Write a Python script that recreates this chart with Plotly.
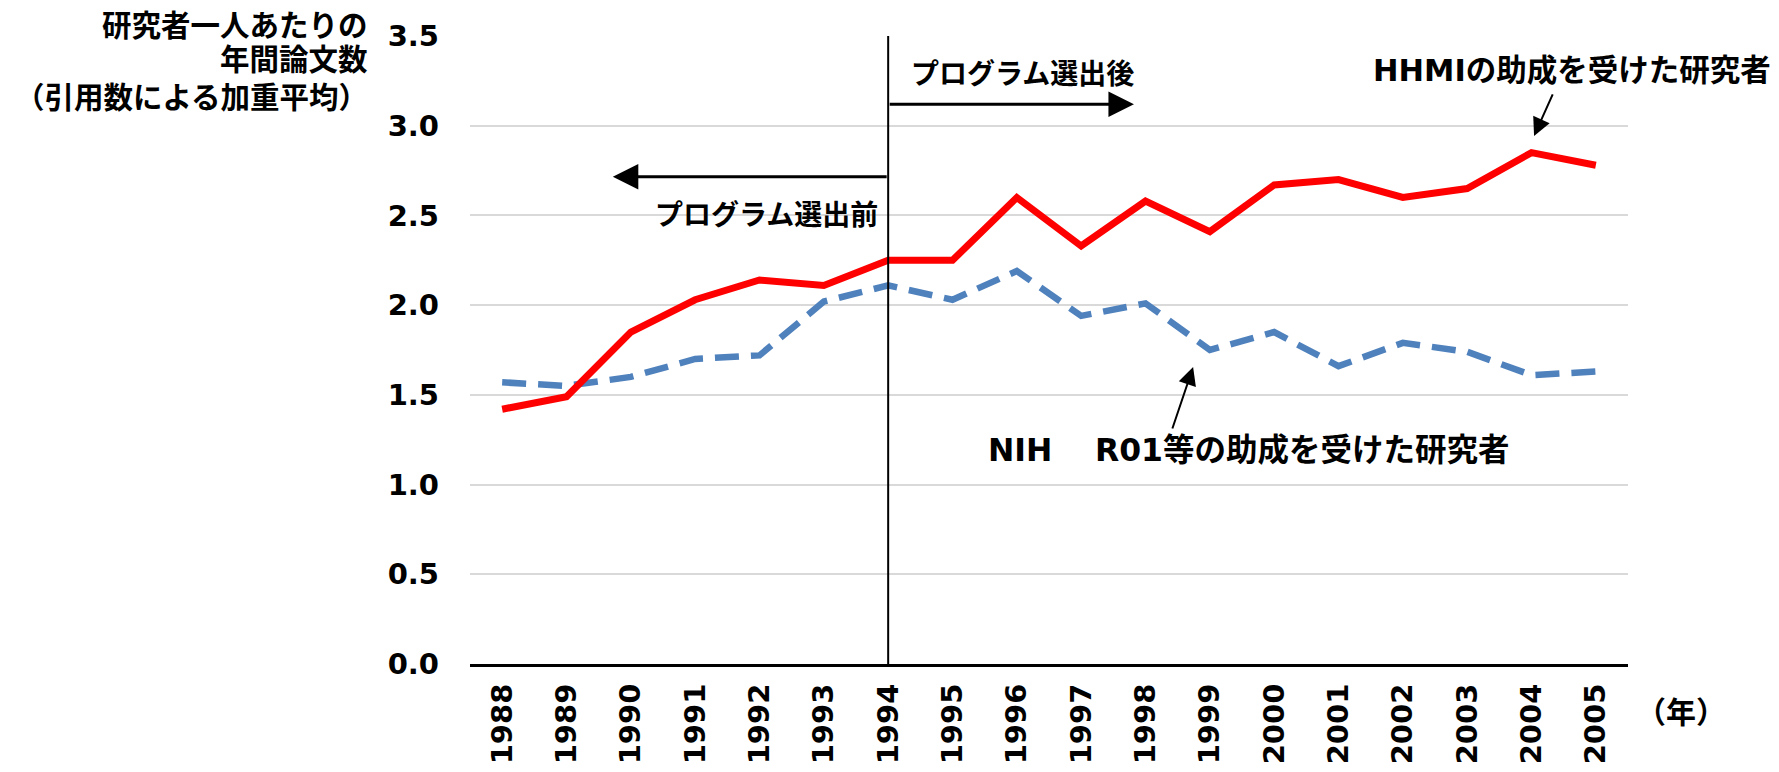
import plotly.graph_objects as go

years = [1988, 1989, 1990, 1991, 1992, 1993, 1994, 1995, 1996,
         1997, 1998, 1999, 2000, 2001, 2002, 2003, 2004, 2005]
hhmi = [1.42, 1.49, 1.85, 2.03, 2.14, 2.11, 2.25, 2.25, 2.60,
        2.33, 2.58, 2.41, 2.67, 2.70, 2.60, 2.65, 2.85, 2.78]
nih = [1.57, 1.55, 1.60, 1.70, 1.72, 2.02, 2.11, 2.03, 2.19,
       1.94, 2.01, 1.75, 1.85, 1.66, 1.79, 1.74, 1.61, 1.63]
y_ticks = [0.0, 0.5, 1.0, 1.5, 2.0, 2.5, 3.0, 3.5]
y_ticktext = ["0.0", "0.5", "1.0", "1.5", "2.0", "2.5", "3.0", "3.5"]
y_title_lines = ["研究者一人あたりの", "年間論文数", "（引用数による加重平均）"]

program_year = 1994

LAT = "DejaVu Sans, Noto Sans CJK JP, sans-serif"
JP = "Noto Sans CJK JP, sans-serif"
MIX = "DejaVu Sans, Noto Sans CJK JP, sans-serif"

# page body has an 8px margin; figure sized so the plot lands where the reference has it
W, H = 1771, 764
L, R, T, B = 462, 151, 28, 108
PW = W - L - R


def px_x(px):
    return (px - L) / PW


fig = go.Figure()
fig.add_trace(go.Scatter(x=years, y=nih, mode="lines",
                         line=dict(color="#4F81BD", width=6.5, dash="24px,12px"),
                         showlegend=False))
fig.add_trace(go.Scatter(x=years, y=hhmi, mode="lines",
                         line=dict(color="#FF0000", width=7),
                         showlegend=False))

fig.add_shape(type="line", x0=program_year, x1=program_year, y0=0, y1=3.525,
              xref="x", yref="y", line=dict(color="black", width=2))

anns = []
# period arrows
anns.append(dict(x=1997.82, y=3.12, ax=program_year, ay=3.12, xref="x", yref="y",
                 axref="x", ayref="y", text="", showarrow=True, arrowhead=2,
                 arrowsize=1.7, arrowwidth=3, arrowcolor="black", standoff=0))
anns.append(dict(x=1989.72, y=2.715, ax=program_year, ay=2.715, xref="x", yref="y",
                 axref="x", ayref="y", text="", showarrow=True, arrowhead=2,
                 arrowsize=1.7, arrowwidth=3, arrowcolor="black", standoff=0))
anns.append(dict(x=1994.33, y=3.30, xref="x", yref="y", text="プログラム選出後",
                 showarrow=False, xanchor="left", yanchor="middle",
                 font=dict(family=JP, size=28, color="black", weight=700)))
anns.append(dict(x=1993.88, y=2.514, xref="x", yref="y", text="プログラム選出前",
                 showarrow=False, xanchor="right", yanchor="middle",
                 font=dict(family=JP, size=28, color="black", weight=700)))
# series labels
anns.append(dict(x=px_x(1765), y=3.305, xref="paper", yref="y",
                 text="HHMIの助成を受けた研究者",
                 showarrow=False, xanchor="right", yanchor="middle",
                 font=dict(family=MIX, size=30.5, color="black", weight=700)))
anns.append(dict(x=1995.52, y=1.193, xref="x", yref="y",
                 text="NIH\u3000 R01等の助成を受けた研究者",
                 showarrow=False, xanchor="left", yanchor="middle",
                 font=dict(family=MIX, size=31.5, color="black", weight=700)))
anns.append(dict(x=2004.04, y=2.943, ax=2004.34, ay=3.183, xref="x", yref="y",
                 axref="x", ayref="y", text="", showarrow=True, arrowhead=2,
                 arrowsize=1.8, arrowwidth=2, arrowcolor="black", standoff=0))
anns.append(dict(x=1998.74, y=1.655, ax=1998.41, ay=1.304, xref="x", yref="y",
                 axref="x", ayref="y", text="", showarrow=True, arrowhead=2,
                 arrowsize=1.8, arrowwidth=2, arrowcolor="black", standoff=0))

# y-axis title, one annotation per line (centres at 15, 49, 87 px from figure top)
for line_text, cy in zip(y_title_lines, [15, 49, 87]):
    anns.append(dict(text=line_text, xref="paper", yref="paper", x=px_x(362), y=1.0,
                     yshift=T - cy, xanchor="right", yanchor="middle",
                     showarrow=False,
                     font=dict(family=JP, size=29.5, color="black", weight=700)))
anns.append(dict(text="（年）", xref="paper", yref="paper", x=px_x(1673), y=0.0,
                 yshift=-(702 - (H - B)), xanchor="center", yanchor="middle",
                 showarrow=False,
                 font=dict(family=JP, size=30, color="black", weight=700)))
fig.update_layout(annotations=anns)

fig.update_layout(
    width=W, height=H,
    margin=dict(l=L, r=R, t=T, b=B, autoexpand=False),
    paper_bgcolor="white", plot_bgcolor="white",
    xaxis=dict(range=[1987.5, 2005.5], tickmode="array", tickvals=years,
               ticktext=[str(y) for y in years], tickangle=-90,
               showgrid=False, zeroline=False, showline=True,
               linecolor="black", linewidth=3, ticks="",
               ticklabelstandoff=5, automargin=False,
               tickfont=dict(family=LAT, size=29, color="black", weight=700)),
    yaxis=dict(range=[0, 3.5], tickmode="array", tickvals=y_ticks,
               ticktext=y_ticktext, showgrid=True, gridcolor="#D9D9D9",
               gridwidth=2, zeroline=False, showline=False, ticks="",
               ticklabelstandoff=30, automargin=False,
               tickfont=dict(family=LAT, size=29, color="black", weight=700)),
)

fig.write_html("out.html")
